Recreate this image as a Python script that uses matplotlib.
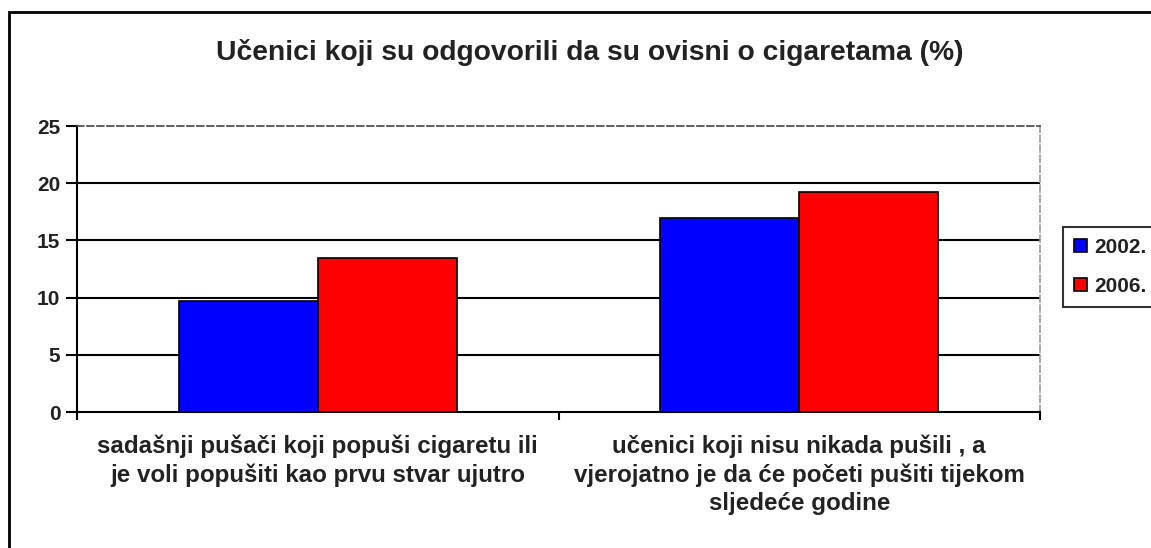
import matplotlib

matplotlib.use("Agg")

import matplotlib.pyplot as plt
import numpy as np
from matplotlib.patches import Rectangle

title = "Učenici koji su odgovorili da su ovisni o cigaretama (%)"
categories = [
    "sadašnji pušači koji popuši cigaretu ili\nje voli popušiti kao prvu stvar ujutro",
    "učenici koji nisu nikada pušili , a\nvjerojatno je da će početi pušiti tijekom\nsljedeće godine",
]
years = ["2002.", "2006."]
values_2002 = [9.7, 17.0]
values_2006 = [13.5, 19.2]
colors = ["#0000ff", "#ff0000"]
y_ticks = [0, 5, 10, 15, 20, 25]

plt.rcParams["font.family"] = ["Liberation Sans", "DejaVu Sans"]

fig = plt.figure(figsize=(11.51, 5.48), dpi=100)
ax = fig.add_axes([77 / 1151, 1 - 412 / 548, (1040 - 77) / 1151, (412 - 126) / 548])

x = np.arange(len(categories))
width = 0.289
ax.bar(x - width / 2, values_2002, width, color=colors[0], edgecolor="black",
       linewidth=1.2, label=years[0], zorder=3)
ax.bar(x + width / 2, values_2006, width, color=colors[1], edgecolor="black",
       linewidth=1.2, label=years[1], zorder=3)

ax.set_xlim(-0.5, len(categories) - 0.5)
ax.set_ylim(0, 25)
ax.set_yticks(y_ticks)
ax.set_yticklabels([str(t) for t in y_ticks], fontsize=15, fontweight="bold",
                   color="#222222")
for t in y_ticks[1:-1]:
    ax.axhline(t, color="black", linewidth=1.5, zorder=1)

ax.set_xticks(x)
ax.set_xticklabels(categories, fontsize=17.4, fontweight="bold", linespacing=1.3,
                   color="#222222")
ax.tick_params(axis="x", length=0, pad=16)
ax.set_xticks([-0.5, 0.5, 1.5], minor=True)
ax.tick_params(axis="x", which="minor", length=6, width=1.5, direction="out")
ax.tick_params(axis="y", length=8, width=1.5, direction="out", pad=4)

ax.spines["left"].set_linewidth(1.5)
ax.spines["bottom"].set_linewidth(1.5)
ax.spines["top"].set_linestyle((0, (4, 2)))
ax.spines["top"].set_color("#444444")
ax.spines["top"].set_linewidth(1.2)
ax.spines["right"].set_linestyle((0, (4, 2)))
ax.spines["right"].set_color("#999999")
ax.spines["right"].set_linewidth(1.2)

leg = fig.legend(loc="center left", bbox_to_anchor=(1063 / 1151, 1 - 267 / 548),
                 frameon=True, fancybox=False, edgecolor="black",
                 prop={"weight": "bold", "size": 15}, handlelength=0.6,
                 handleheight=0.6, handletextpad=0.35, labelspacing=0.95,
                 borderpad=0.55, borderaxespad=0)
leg.get_frame().set_linewidth(1.5)
for text in leg.get_texts():
    text.set_color("#222222")

fig.text(590 / 1151, 1 - 52 / 548, title, ha="center", va="center",
         fontsize=20.3, fontweight="bold", color="#222222")

frame = Rectangle((9 / 1151, -0.02), 1.05, 1 - 12 / 548 + 0.02,
                  transform=fig.transFigure, fill=False, edgecolor="black",
                  linewidth=2, clip_on=False)
fig.add_artist(frame)

fig.savefig("out.png", dpi=100)
